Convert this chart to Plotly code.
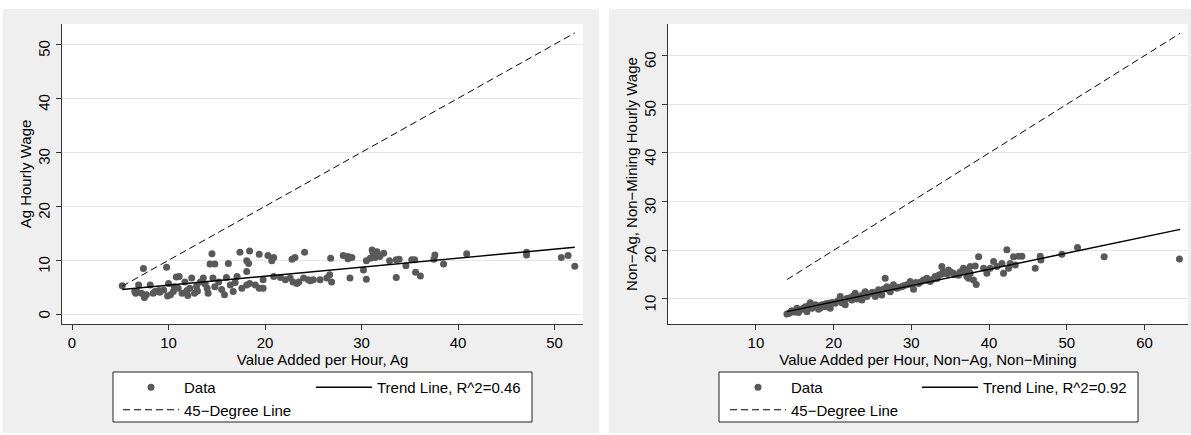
import plotly.graph_objects as go

# ---------------- data ----------------
ag_x = [5.2, 7.4, 9.8, 6.6, 7.5, 6.9, 8.1, 8.4, 6.5, 7.7, 8.6, 9.1, 9.5, 10.0, 10.2, 10.5,
        11.0, 11.4, 11.7, 12.2, 12.4, 12.7, 13.3, 13.6, 14.0, 14.1, 14.6, 14.8, 15.2, 15.8,
        16.0, 16.4, 16.7, 17.1, 17.6, 18.1, 18.4, 19.0, 19.4, 19.8, 19.8, 20.9, 21.6, 22.1,
        22.6, 22.9, 23.5, 24.0, 24.5, 25.0, 25.7, 26.4, 26.7, 26.9, 28.8,
        14.5, 14.3, 14.8, 16.2, 17.4, 18.4, 19.4, 18.1, 18.3, 20.3, 20.9, 20.7, 22.8, 23.1,
        24.1, 26.8, 28.1, 28.6, 11.1, 10.8, 18.1,
        28.6, 29.0, 30.2, 30.5, 30.5, 31.1, 31.2, 31.6, 30.9, 31.4, 31.9, 32.3, 32.9, 33.6,
        33.9, 33.6, 34.6, 35.2, 35.5, 35.6, 36.1, 37.6, 37.5, 38.5, 40.9, 47.1, 47.1, 50.7,
        51.4, 52.1, 23.3, 24.7,
        6.7, 7.2, 9.0, 10.6, 11.9, 12.9, 13.8, 15.5, 16.9, 9.9, 12.0, 13.0]
ag_y = [5.3, 8.5, 8.7, 3.9, 3.1, 5.4, 5.4, 3.9, 4.2, 3.6, 4.2, 4.1, 4.5, 5.7, 3.6, 4.2,
        4.8, 3.9, 6.0, 4.8, 6.7, 3.9, 6.0, 6.7, 4.8, 3.9, 6.7, 5.1, 6.0, 3.6,
        6.8, 5.4, 4.2, 7.0, 4.8, 5.4, 5.7, 5.4, 4.8, 6.4, 4.8, 7.0, 6.8, 6.4,
        6.7, 6.0, 6.0, 6.7, 6.4, 6.4, 6.4, 6.7, 7.3, 6.0, 6.7,
        11.2, 9.3, 9.3, 9.4, 11.5, 11.7, 11.1, 9.9, 9.4, 10.9, 10.5, 9.9, 10.2, 10.5,
        11.5, 10.4, 10.9, 10.3, 7.0, 6.9, 7.9,
        10.7, 10.5, 8.2, 6.5, 9.9, 11.9, 11.3, 11.6, 10.4, 10.5, 10.7, 11.3, 9.9, 10.1,
        10.2, 6.8, 9.0, 10.1, 10.1, 7.8, 7.1, 11.0, 10.2, 9.3, 11.2, 11.5, 11.0, 10.5,
        10.9, 8.9, 5.7, 6.2,
        4.2, 3.9, 4.4, 5.1, 4.4, 5.2, 5.6, 4.6, 5.9, 3.4, 3.5, 4.3]

non_x = [13.98, 14.41, 14.84, 15.27, 15.48, 15.91, 16.34, 16.56, 16.98, 17.2, 17.63, 18.06,
         18.49, 18.92, 19.34, 19.56, 20.2, 20.85, 21.06, 21.49, 21.7, 22.35, 22.77, 23.2,
         23.63, 24.06, 24.27, 24.92, 25.35, 25.77, 26.2, 26.63, 26.85, 27.28, 27.7, 28.13,
         28.78, 29.42, 29.85, 30.28, 30.92, 31.56, 31.99, 32.42, 33.07, 33.5, 33.92, 34.35,
         34.78, 35.42, 36.07, 36.71, 37.14, 37.57,
         36.93, 37.58, 38.22, 37.36, 38.0, 38.35, 38.65, 39.29, 39.72, 40.15, 40.58, 41.01,
         41.65, 41.86, 42.29, 42.51, 42.72, 43.15, 43.37, 43.79, 44.22, 45.94, 46.58, 46.67,
         49.37, 51.38, 54.81, 64.5,
         14.2, 14.6, 15.0, 15.6, 16.0, 16.8, 17.4, 17.9, 18.3, 18.7, 19.0, 19.8, 20.5, 21.2,
         22.0, 22.5, 23.0, 23.8, 24.5, 25.0, 25.5, 26.0, 26.4, 27.0, 27.5, 28.4, 29.0, 30.0,
         30.6, 31.2, 32.0, 32.7, 33.3, 33.8, 34.1, 34.6, 35.1, 35.6, 36.3, 37.0]
non_y = [6.92, 7.2, 7.4, 8.1, 7.2, 7.9, 8.4, 7.4, 9.25, 8.1, 8.8, 7.9,
         8.8, 8.4, 9.1, 8.1, 9.1, 10.5, 9.25, 8.8, 10.1, 9.8, 11.2, 10.5,
         9.8, 11.5, 10.5, 11.2, 10.5, 11.9, 10.8, 14.25, 12.5, 11.5, 12.9, 12.2,
         12.5, 12.9, 13.6, 12.0, 13.2, 13.9, 14.25, 13.6, 14.6, 14.9, 16.65, 15.3,
         15.96, 15.3, 14.9, 16.3, 14.6, 15.3,
         15.6, 16.65, 16.8, 14.25, 13.9, 13.0, 18.7, 16.3, 15.3, 16.3, 17.7, 16.65,
         17.3, 15.3, 20.1, 16.3, 17.3, 18.7, 17.0, 18.8, 18.8, 16.3, 18.8, 18.0,
         19.2, 20.6, 18.7, 18.2,
         7.0, 7.6, 7.3, 7.7, 8.0, 8.6, 8.3, 8.6, 8.2, 8.7, 9.0, 9.3, 9.6, 9.7,
         10.2, 10.6, 10.0, 10.9, 11.0, 11.4, 11.1, 11.6, 12.0, 12.0, 12.3, 12.4, 12.7, 13.0,
         13.4, 13.5, 13.8, 14.0, 14.2, 15.1, 15.6, 15.2, 15.5, 15.0, 15.6, 15.9]

# trend lines (end points) and 45-degree lines
ag_trend_x = [5.2, 52.1]
ag_trend_y = [4.6, 12.4]
ag_diag = [5.2, 52.1]
non_trend_x = [14.0, 64.6]
non_trend_y = [7.4, 24.3]
non_diag = [14.0, 64.6]

ag_xticks = [0, 10, 20, 30, 40, 50]
ag_yticks = [0, 10, 20, 30, 40, 50]
non_xticks = [10, 20, 30, 40, 50, 60]
non_yticks = [10, 20, 30, 40, 50, 60]

# ---------------- layout helpers ----------------
W, H = 1191, 435
FONT = "Liberation Sans"
DOT = "#595959"


def px(v):
    return v / W


def py(v):
    return 1 - v / H


fig = go.Figure()

# Left panel
fig.add_trace(go.Scatter(x=ag_x, y=ag_y, mode="markers", name="Data",
                         marker=dict(color=DOT, size=7), xaxis="x", yaxis="y",
                         legend="legend"))
fig.add_trace(go.Scatter(x=ag_trend_x, y=ag_trend_y, mode="lines",
                         name="Trend Line, R^2=0.46",
                         line=dict(color="black", width=1.5), xaxis="x", yaxis="y",
                         legend="legend2"))
fig.add_trace(go.Scatter(x=ag_diag, y=ag_diag, mode="lines", name="45−Degree Line",
                         line=dict(color="black", width=1, dash="7px,4px"),
                         xaxis="x", yaxis="y", legend="legend"))

# Right panel
fig.add_trace(go.Scatter(x=non_x, y=non_y, mode="markers", name="Data",
                         marker=dict(color=DOT, size=7), xaxis="x2", yaxis="y2",
                         legend="legend3"))
fig.add_trace(go.Scatter(x=non_trend_x, y=non_trend_y, mode="lines",
                         name="Trend Line, R^2=0.92",
                         line=dict(color="black", width=1.5), xaxis="x2", yaxis="y2",
                         legend="legend4"))
fig.add_trace(go.Scatter(x=non_diag, y=non_diag, mode="lines", name="45−Degree Line",
                         line=dict(color="black", width=1, dash="7px,4px"),
                         xaxis="x2", yaxis="y2", legend="legend3"))

axis_common = dict(showline=True, linecolor="#333333", linewidth=1, ticks="outside",
                   ticklen=5, tickcolor="#333333", zeroline=False,
                   tickfont=dict(family=FONT, size=15, color="black"),
                   automargin=True)

xcommon = dict(axis_common, showgrid=False)
ycommon = dict(axis_common, showgrid=True, gridcolor="#e6e6e6", gridwidth=1,
               tickangle=-89.9, ticklabelstandoff=11, ticklabelshift=-2)

# plot areas in pixels
L_left, L_right = 62, 583
R_left, R_right = 668, 1188
P_top, P_bot = 24, 324

fig.update_layout(
    width=W, height=H,
    margin=dict(l=0, r=0, t=0, b=0),
    paper_bgcolor="white", plot_bgcolor="white",
    font=dict(family=FONT, size=15, color="black"),
    showlegend=True,
    xaxis=dict(xcommon, domain=[px(L_left), px(L_right)], range=[-1.04, 52.95],
               tickvals=ag_xticks, anchor="y",
               title=dict(text="Value Added per Hour, Ag", standoff=4,
                          font=dict(family=FONT, size=15, color="black"))),
    yaxis=dict(ycommon, domain=[py(P_bot), py(P_top)], range=[-1.8, 53.76],
               tickvals=ag_yticks, anchor="x",
               title=dict(text="Ag Hourly Wage", standoff=0,
                          font=dict(family=FONT, size=15, color="black"))),
    xaxis2=dict(xcommon, domain=[px(R_left), px(R_right)], range=[-1.32, 65.6],
                tickvals=non_xticks, anchor="y2",
                title=dict(text="Value Added per Hour, Non−Ag, Non−Mining", standoff=4,
                           font=dict(family=FONT, size=15, color="black"))),
    yaxis2=dict(ycommon, domain=[py(P_bot), py(P_top)], range=[4.86, 66.5],
                tickvals=non_yticks, anchor="x2",
                title=dict(text="Non−Ag, Non−Mining Hourly Wage", standoff=0,
                           font=dict(family=FONT, size=15, color="black"))),
)

leg_common = dict(bgcolor="rgba(0,0,0,0)", borderwidth=0, orientation="v",
                  xanchor="left", yanchor="top", tracegroupgap=0, itemwidth=56,
                  font=dict(family=FONT, size=15, color="black"))
fig.update_layout(
    legend=dict(leg_common, x=px(118), y=py(371)),
    legend2=dict(leg_common, x=px(311), y=py(371)),
    legend3=dict(leg_common, x=px(725), y=py(371)),
    legend4=dict(leg_common, x=px(917), y=py(371)),
)

shapes = []
# grey panel backgrounds
for x0, x1 in [(3, 599), (609, 1191)]:
    shapes.append(dict(type="rect", xref="paper", yref="paper", layer="below",
                       x0=px(x0), x1=px(x1), y0=py(433), y1=py(9),
                       fillcolor="#efefef", line=dict(width=0)))
# white plot regions
for x0, x1 in [(L_left, L_right), (R_left, R_right)]:
    shapes.append(dict(type="rect", xref="paper", yref="paper", layer="below",
                       x0=px(x0), x1=px(x1), y0=py(P_bot), y1=py(P_top),
                       fillcolor="white", line=dict(width=0)))
# legend boxes
for x0, x1 in [(113, 532), (719, 1138)]:
    shapes.append(dict(type="rect", xref="paper", yref="paper", layer="below",
                       x0=px(x0), x1=px(x1), y0=py(422), y1=py(372),
                       fillcolor="white", line=dict(width=1, color="#222222")))
fig.update_layout(shapes=shapes)

fig.write_html("out.html")
